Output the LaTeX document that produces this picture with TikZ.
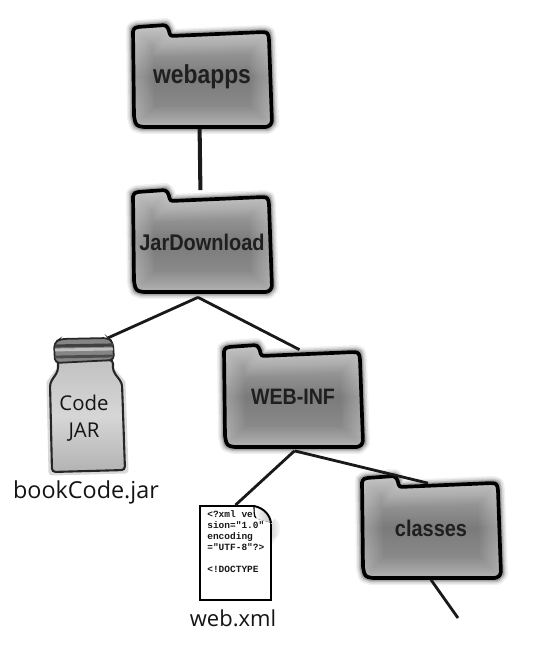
\documentclass[tikz,border=0pt]{standalone}
\usepackage{fontspec}
\setmainfont{Liberation Sans}
\newfontfamily\handfont{Open Sans}
\newfontfamily\xmlfont{Liberation Mono}
\tikzset{
  branch/.style={line width=1.6pt,black!90},
  foldernode/.style={minimum width=2.76cm,minimum height=2.06cm,inner sep=0pt,text=black!88,font=\bfseries,xscale=.88},
  handtext/.style={inner sep=0pt,text=black!92,font=\handfont\fontsize{13.3}{15.5}\selectfont,align=center}
}
% outline of a folder, around its own centre
\newcommand{\folderoutline}{(-69,-48) -- (-65,-50) -- (-36,-52) -- (-33,-47) -- (-32,-41) -- (62,-45) -- (66,-44) -- (67,-38) -- (70,46) -- (66,50) -- (-60,50) -- (-66,48) -- (-68,40) -- cycle}

\begin{document}
\begin{tikzpicture}[x=.02cm,y=-.02cm]
\useasboundingbox (0,0) rectangle (546,647);

% the folders
\foreach \fname/\fx/\fy/\fsize/\fdrop/\ftext in {webapps/202/77/14.8/-6/webapps,jardownload/202/242/12.9/-3/JarDownload,webinf/293/397/12.7/-2/WEB-INF,classes/431/528/12.9/-3/classes}{
\begin{scope}[shift={(\fx,\fy)}]
\foreach \w/\o in {14/.06,11/.09,8/.12,6/.15}
\draw[black,line width=\w*.569pt,opacity=\o,line join=round] \folderoutline;
\fill[top color=black!30,bottom color=black!42,middle color=black!52] \folderoutline;
\begin{scope}
\clip \folderoutline;
\foreach \w in {40,36,...,8}
\draw[white,line width=\w*.569pt,opacity=.035] \folderoutline;
\end{scope}
\draw[black,line width=2.1pt,line join=round,rounded corners=1.5pt] \folderoutline;
\node[foldernode] (\fname) at (0,0) {\fontsize{\fsize}{\fsize}\selectfont\raisebox{\fdrop pt}{\ftext}};
\end{scope}
}

% the jar
\draw[black,opacity=.15,line width=4pt,line join=round] (58,372) -- (50,383) -- (52,472) -- (125,470) -- (122,383) -- (113,372) -- cycle;
\fill[top color=black!24,bottom color=black!30,middle color=black!16,draw=black!85,line width=1.2pt,rounded corners=2pt]
 (58,360) -- (58,371) -- (50,383) -- (52,472) -- (125,470) -- (122,383) -- (113,371) -- (113,360) -- cycle;
\fill[black!48,draw=black!85,line width=1pt,rounded corners=2.5pt] (54,343) -- (60,339) -- (108,338) -- (113,342) -- (114,360) -- (55,363) -- cycle;
\draw[black!75,line width=1.8pt] (55,346) -- (113,345);
\draw[black!25,line width=1.6pt] (55,350) -- (113,349);
\draw[black!70,line width=1.6pt] (55,357) -- (113,356);
\node[inner sep=0pt,minimum width=1.36cm,minimum height=2.68cm] (codejar) at (84,405) {};
\node[handtext,font=\handfont\fontsize{11.6}{15.5}\selectfont] at (84,418) (jarlabel) {Code\\JAR};
\node[handtext] (jarname) at (86,492) {bookCode.jar};

% the xml file
\foreach \w in {3,5,7,9}
\fill[black,opacity=.035,rounded corners=3pt] (271,518) -- (271+\w,520) -- (271+\w,546-\w) -- (271,548-\w) -- cycle;
\node[draw=black,line width=1.1pt,fill=white,minimum width=1.42cm,minimum height=1.88cm,inner sep=0pt] (webxml) at (235.5,553) {};
\node[inner sep=0pt,align=left,anchor=north west,text=black!90,font=\xmlfont\bfseries\fontsize{5.4}{6.3}\selectfont] (xmltext) at (207,510) {<?xml ver\\sion="1.0"\\encoding\\="UTF-8"?>\\\\<!DOCTYPE};
\fill[white] (254,504) -- (274,504) -- (274,518) -- (271.5,524) -- cycle;
\fill[left color=white,right color=black!22] (254,506) .. controls (264,508) and (270,515) .. (271,523) .. controls (264,520) and (257,520) .. (255,517) -- cycle;
\draw[black,line width=1.1pt] (254,506) .. controls (264,508) and (270,515) .. (271,523);
\draw[black,line width=.6pt] (254,506) .. controls (254,511) and (254,516) .. (256,518);
\node[handtext,font=\handfont\fontsize{12.5}{15}\selectfont] (xmlname) at (233,618) {web.xml};

% the branches
\draw[branch,line width=2.3pt] (webapps.267) -- (jardownload.92);
\draw[branch] ([xshift=-.08cm,yshift=-.07cm]jardownload.south) -- (codejar.70);
\draw[branch] ([xshift=-.08cm,yshift=-.07cm]jardownload.south) -- ([xshift=.13cm,yshift=-.09cm]webinf.north);
\draw[branch] ([xshift=.03cm,yshift=-.04cm]webinf.south) -- (webxml.north);
\draw[branch] ([xshift=.03cm,yshift=-.04cm]webinf.south) -- ([xshift=-.06cm,yshift=-.14cm]classes.north);
\coordinate (classestail) at (458,618);
\draw[branch] (classes.south) -- (classestail);
\end{tikzpicture}
\end{document}
